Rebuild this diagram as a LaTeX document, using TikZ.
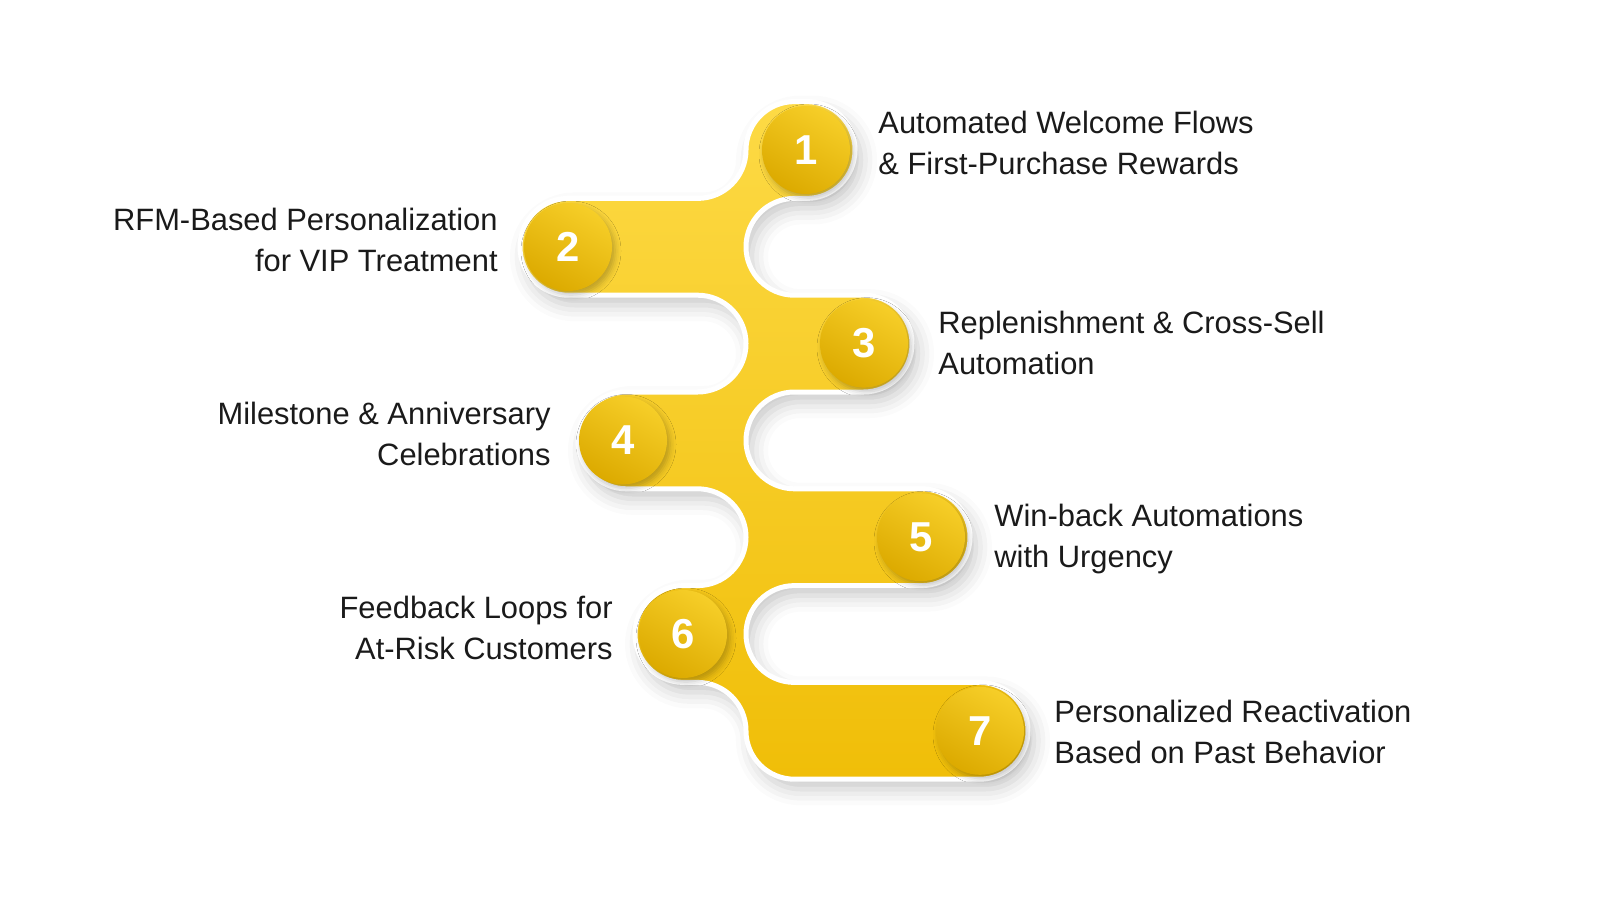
\documentclass[tikz,border=0pt]{standalone}
\usepackage{fontspec}
\setmainfont{Liberation Sans}
\usetikzlibrary{shadows.blur}
\definecolor{ytop}{HTML}{FDDA45}
\definecolor{ybot}{HTML}{F0BE08}
\definecolor{ctop}{HTML}{F6CE28}
\definecolor{cbot}{HTML}{DCAA00}
\definecolor{txt}{HTML}{1A1A1A}
\tikzset{
  num/.style={circle,minimum size=44bp,inner sep=0pt,top color=ctop,bottom color=cbot,shading angle=-30,
    blur shadow={shadow xshift=1.5bp,shadow yshift=-2bp,shadow opacity=25,shadow blur radius=3bp},
    text=white,font=\fontsize{21}{21}\selectfont\bfseries},
  lblR/.style={anchor=west,align=left,text=txt,font=\fontsize{15.5}{20.5}\selectfont,inner sep=0pt},
  lblL/.style={anchor=east,align=right,text=txt,font=\fontsize{15.5}{20.5}\selectfont,inner sep=0pt}
}
\begin{document}
\begin{tikzpicture}[x=0.5bp,y=-0.5bp]
\useasboundingbox (0,0) rectangle (1600,900);
\path[draw=white,line width=2.5bp,top color=ytop,bottom color=ybot,
  blur shadow={shadow xshift=3bp,shadow yshift=-5bp,shadow opacity=22,shadow blur radius=8bp}]
 (794.4,101.6) -- (806.6,101.6) arc(-90:90:48.4)
 -- (794.4,198.4) arc(-90:-270:48.4)
 -- (863.6,295.2) arc(-90:90:48.4)
 -- (794.4,392) arc(-90:-270:48.4)
 -- (921.6,488.8) arc(-90:90:48.4)
 -- (794.4,585.6) arc(-90:-270:48.4)
 -- (979.6,682.4) arc(-90:90:48.4)
 -- (794.4,779.2) arc(90:180:48.4) arc(0:-90:48.4)
 -- (683.4,682.4) arc(90:270:48.4)
 -- (697.6,585.6) arc(90:-90:48.4)
 -- (626.4,488.8) arc(90:270:48.4)
 -- (697.6,392) arc(90:-90:48.4)
 -- (568.4,295.2) arc(90:270:48.4)
 -- (697.6,198.4) arc(90:0:48.4) arc(180:270:48.4) -- cycle;
\node[num] (n1) at (806,150) {1};
\node[num] (n2) at (568,247) {2};
\node[num] (n3) at (864,343.6) {3};
\node[num] (n4) at (623,440.4) {4};
\node[num] (n5) at (921,537.2) {5};
\node[num] (n6) at (683,634) {6};
\node[num] (n7) at (980,730.8) {7};
\node[lblR] (t1) at (878,143) {Automated Welcome Flows\\\& First-Purchase Rewards};
\node[lblL] (t2) at (498,240) {RFM-Based Personalization\\for VIP Treatment};
\node[lblR] (t3) at (938,343) {Replenishment \& Cross-Sell\\Automation};
\node[lblL] (t4) at (551,434) {Milestone \& Anniversary\\Celebrations};
\node[lblR] (t5) at (994,539) {Win-back Automations\\with Urgency};
\node[lblL] (t6) at (613,628) {Feedback Loops for\\At-Risk Customers};
\node[lblR] (t7) at (1054,732) {Personalized Reactivation\\Based on Past Behavior};
\end{tikzpicture}
\end{document}
